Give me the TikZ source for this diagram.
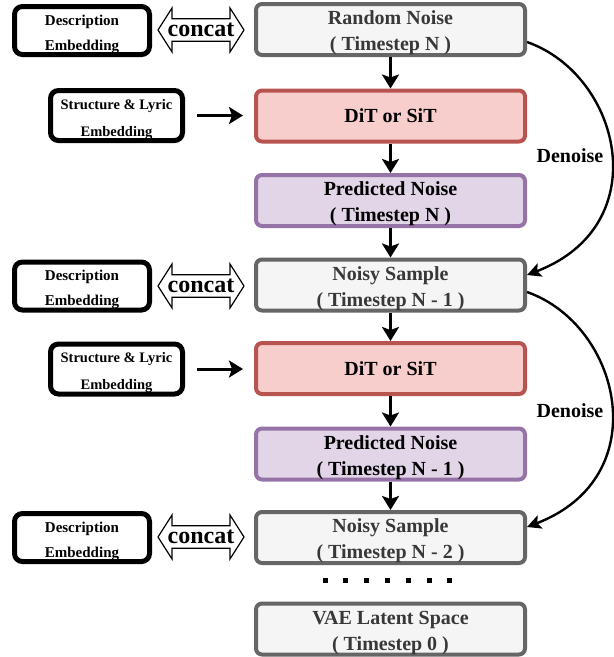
\documentclass[tikz,border=0pt]{standalone}
\usepackage{fontspec}
\setmainfont{Liberation Serif}
\usetikzlibrary{arrows.meta}
\usetikzlibrary{shapes.arrows}

\definecolor{fillgray}{HTML}{F5F5F5}
\definecolor{linegray}{HTML}{666666}
\definecolor{textgray}{HTML}{383838}
\definecolor{fillred}{HTML}{F8CECC}
\definecolor{linered}{HTML}{B85450}
\definecolor{fillpurple}{HTML}{E1D5E7}
\definecolor{linepurple}{HTML}{9673A6}

% a strut that lowers two-line texts a little
\newcommand{\lowbig}{\rule{0pt}{20.5pt}}
\newcommand{\lowsmall}{\rule{0pt}{18pt}}

\begin{document}
\begin{tikzpicture}[x=1pt, y=-1pt,
    stage/.style={draw=linegray, fill=fillgray, text=textgray, line width=4pt,
        rounded corners=6pt, minimum width=269pt, minimum height=51pt,
        inner ysep=0pt, align=center, font=\fontsize{20}{26}\selectfont\bfseries},
    model/.style={stage, draw=linered, fill=fillred, text=black},
    pred/.style={stage, draw=linepurple, fill=fillpurple, text=black},
    cond/.style={draw, line width=5pt, rounded corners=8pt, fill=white,
        minimum width=135pt, minimum height=48pt, inner ysep=0pt, align=center,
        font=\fontsize{15}{25}\selectfont\bfseries},
    slbox/.style={cond, minimum width=132pt, minimum height=50pt,
        font=\fontsize{14.5}{27}\selectfont\bfseries},
    concat/.style={double arrow, draw, line width=1.2pt, fill=white,
        minimum height=86pt, minimum width=44pt, inner sep=1pt,
        double arrow head extend=8pt, double arrow tip angle=115,
        font=\fontsize{24}{24}\selectfont\bfseries},
    flow/.style={-{Stealth[length=14pt, width=17pt, inset=3pt]}, line width=3pt},
    denoise/.style={-{Stealth[length=14pt, width=14pt, inset=3pt]}, line width=2.4pt}
]
    \useasboundingbox (0,0) rectangle (614,657);

    % The main column
    \node[stage] (rn) at (390.5,29.5) {\lowbig Random Noise\\( Timestep N )};
    \node[model] (dit1) at (390.5,116) {DiT or SiT};
    \node[pred] (pn1) at (390.5,200.5) {\lowbig Predicted Noise\\( Timestep N )};
    \node[stage] (ns1) at (390.5,285) {\lowbig Noisy Sample\\( Timestep N - 1 )};
    \node[model] (dit2) at (390.5,368.5) {DiT or SiT};
    \node[pred] (pn2) at (390.5,454) {\lowbig Predicted Noise\\( Timestep N - 1 )};
    \node[stage] (ns2) at (390.5,537.5) {\lowbig Noisy Sample\\( Timestep N - 2 )};
    \node[stage] (vae) at (390.5,629) {\lowbig VAE Latent Space\\( Timestep 0 )};

    % The conditions on the left
    \node[cond] (de1) at (82,30.5) {\lowsmall Description\\Embedding};
    \node[cond] (de2) at (82,286) {\lowsmall Description\\Embedding};
    \node[cond] (de3) at (82,537.5) {\lowsmall Description\\Embedding};
    \node[slbox] (sl1) at (116.5,115.5) {\lowsmall Structure \& Lyric\\Embedding};
    \node[slbox] (sl2) at (116.5,369) {\lowsmall Structure \& Lyric\\Embedding};

    % The concat arrows
    \node[concat] (cc1) at (201,30) {concat};
    \node[concat] (cc2) at (201,286) {concat};
    \node[concat] (cc3) at (201,537) {concat};

    % The flow down the column
    \draw[flow] (rn) -- (dit1);
    \draw[flow] (dit1) -- (pn1);
    \draw[flow] (pn1) -- (ns1);
    \draw[flow] (ns1) -- (dit2);
    \draw[flow] (dit2) -- (pn2);
    \draw[flow] (pn2) -- (ns2);
    \draw[flow, shorten <=12pt, shorten >=11pt] (sl1.east) -- (sl1.east -| dit1.west);
    \draw[flow, shorten <=12pt, shorten >=11pt] (sl2.east) -- (sl2.east -| dit2.west);

    % The denoise steps
    \draw[denoise] ([yshift=-12.5pt]rn.east) .. controls +(94,33) and +(130,-50) .. ([yshift=10pt]ns1.east);
    \draw[denoise] ([yshift=-7pt]ns1.east) .. controls +(94,33) and +(130,-50) .. ([yshift=10.5pt]ns2.east);
    \node[font=\fontsize{20}{20}\selectfont\bfseries] (dn1) at (570,156) {Denoise};
    \node[font=\fontsize{20}{20}\selectfont\bfseries] (dn2) at (570,411) {Denoise};

    % The dots
    \foreach \i in {0,...,6}
        \fill (322.5+\i*20.8,577.5) rectangle +(5,5);
\end{tikzpicture}
\end{document}
